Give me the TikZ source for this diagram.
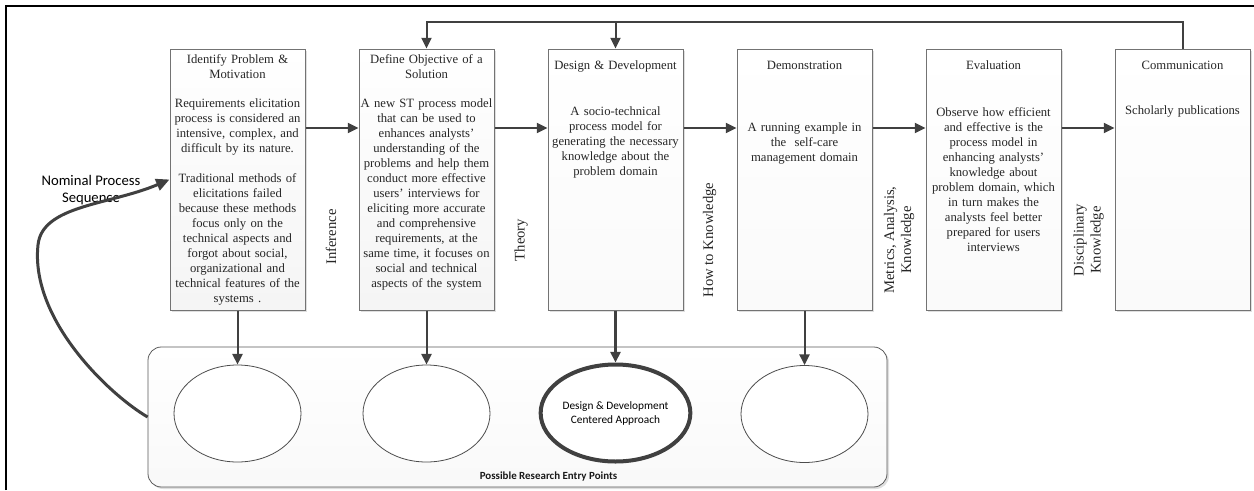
\documentclass[tikz,border=0pt]{standalone}
\usepackage{fontspec}
\setmainfont{Liberation Serif}
\newfontfamily\calibri{Carlito}
\usepackage{tikz}
\usetikzlibrary{arrows.meta,shapes.geometric,shadows}

\begin{document}
\begin{tikzpicture}[x=0.75pt,y=-0.75pt,
  stage/.style={draw=black!55, line width=0.75pt, minimum width=101.25pt, minimum height=195.75pt,
    top color=white, bottom color=gray!4,
    drop shadow={shadow xshift=1.5pt,shadow yshift=-1.5pt,fill=black!25}},
  txt/.style={align=center, text width=104pt, inner sep=0pt, anchor=north, text=black!85,
    font=\fontsize{9.5}{11.25}\selectfont},
  side/.style={align=center, rotate=90, inner sep=0pt, text=black!85,
    font=\fontsize{11}{12.75}\selectfont},
  flow/.style={draw=black!75, line width=1.5pt, -{Triangle[length=8pt,width=7.5pt]}},
  spot/.style={ellipse, draw=black!70, line width=0.6pt, fill=white,
    minimum width=95.25pt, minimum height=72.75pt, inner sep=0pt}]
\useasboundingbox (0,0) rectangle (1254,490);
\draw[line width=2pt] (6,490) -- (6,6) -- (1254,6);

% activities
\node[stage, bottom color=gray!8] (b1) at (237.5,179.5) {};
\node[stage, bottom color=gray!8] (b2) at (426.5,179.5) {};
\node[stage] (b3) at (615.5,179.5) {};
\node[stage] (b4) at (804.5,179.5) {};
\node[stage] (b5) at (993.5,179.5) {};
\node[stage] (b6) at (1182.5,179.5) {};

\node[txt] (t1) at (237.5,54.5) {Identify Problem \&\\Motivation};
\node[txt] (d1) at (237.5,98.5) {Requirements elicitation\\process is considered an\\intensive, complex, and\\difficult by its nature.\\[11.25pt]Traditional methods of\\elicitations failed\\because these methods\\focus only on the\\technical aspects and\\forgot about social,\\organizational and\\technical features of the\\systems .};
\node[txt] (t2) at (426.5,54.5) {Define Objective of a\\Solution};
\node[txt] (d2) at (426.5,98.5) {A new ST process model\\that can be used to\\enhances analysts'\\understanding of the\\problems and help them\\conduct more effective\\users' interviews for\\eliciting more accurate\\and comprehensive\\requirements, at the\\same time, it focuses on\\social and technical\\aspects of the system};
\node[txt] (t3) at (615.5,60.5) {Design \& Development};
\node[txt] (d3) at (615.5,106.5) {A socio-technical\\process model for\\generating the necessary\\knowledge about the\\problem domain};
\node[txt] (t4) at (804.5,60.5) {Demonstration};
\node[txt] (d4) at (804.5,122.5) {A running example in\\the\ \ self-care\\management domain};
\node[txt] (t5) at (993.5,60.5) {Evaluation};
\node[txt] (d5) at (993.5,107.5) {Observe how efficient\\and effective is the\\process model in\\enhancing analysts'\\knowledge about\\problem domain, which\\in turn makes the\\analysts feel better\\prepared for users\\interviews};
\node[txt] (t6) at (1182.5,60.5) {Communication};
\node[txt] (d6) at (1182.5,105.5) {Scholarly publications};

% outputs between activities
\node[side] (l1) at (331,237) {Inference};
\node[side] (l2) at (521,240) {Theory};
\node[side] (l3) at (709.5,240) {How to Knowledge};
\node[side] (l4) at (899,240) {Metrics, Analysis,\\Knowledge};
\node[side] (l5) at (1088.5,240) {Disciplinary\\Knowledge};

\draw[flow] (b1.east |- 0,128) -- (b2.west |- 0,128);
\draw[flow] (b2.east |- 0,128) -- (b3.west |- 0,128);
\draw[flow] (b3.east |- 0,128) -- (b4.west |- 0,128);
\draw[flow] (b4.east |- 0,128) -- (b5.west |- 0,128);
\draw[flow] (b5.east |- 0,128) -- (b6.west |- 0,128);

% iteration back
\coordinate (back) at (1182.5,22);
\draw[flow] (b6.north) |- (b2.north |- back) -- (b2.north);
\draw[flow] (b3.north |- back) -- (b3.north);

% entry points
\node[draw=black!65, line width=0.6pt, rounded corners=10pt, minimum width=554.25pt, minimum height=105pt,
  top color=white, bottom color=gray!5,
  drop shadow={shadow xshift=1.5pt,shadow yshift=-1.5pt,fill=black!25}] (rep) at (517.5,417) {};
\node[inner sep=0pt, text=black!90, font=\calibri\bfseries\fontsize{8.2}{9.6}\selectfont] (replabel) at (548.5,477) {Possible Research Entry Points};

\node[spot] (e1) at (237.5,413.5) {};
\node[spot] (e2) at (426.5,413.5) {};
\node[spot, draw=black!75, line width=3pt, align=center, font=\calibri\fontsize{8.5}{10.5}\selectfont] (e3) at (615.5,413) {Design \& Development\\Centered Approach};
\node[spot] (e4) at (804.5,414) {};

\draw[flow] (b1.south) -- (e1.north);
\draw[flow] (b2.south) -- (e2.north);
\draw[flow, line width=2.25pt] (b3.south) -- (e3.north);
\draw[flow] (b4.south) -- (e4.north);

% nominal sequence
\node[inner sep=0pt, align=center, font=\calibri\fontsize{11}{12.75}\selectfont] (seq) at (91,190) {Nominal Process\\Sequence};
\draw[flow, line width=2.25pt, -{Triangle[length=10pt,width=9pt]}] (rep.west) .. controls (110,395) and (30,320) .. (38,245) .. controls (42,205) and (110,205) .. (b1.west);
\end{tikzpicture}
\end{document}
